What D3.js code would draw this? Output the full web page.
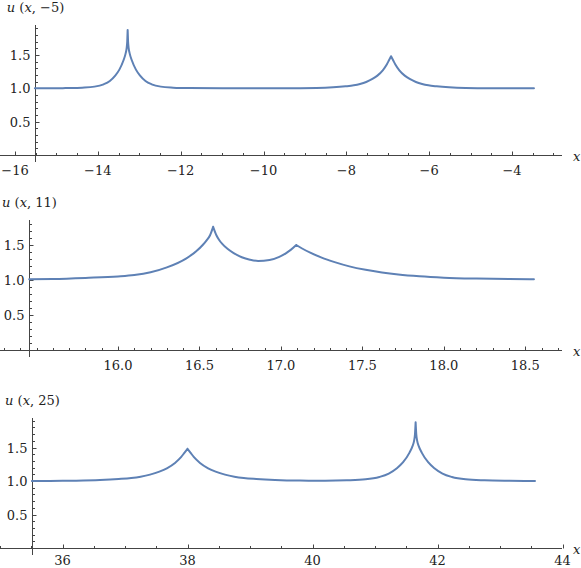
<!DOCTYPE html>
<html>
<head>
<meta charset="utf-8">
<script src="https://cdn.jsdelivr.net/npm/d3@7"></script>
<style>
  body { margin: 0; background: #fff; }
  svg text { font-family: "DejaVu Serif", serif; font-size: 13px; fill: #222; }
</style>
</head>
<body>
<svg id="chart" width="581" height="568"></svg>
<script>
// u(x, t), one array per time slice
const curveTm5 = [
  [-15.52, 1.0], [-15.0, 1.0], [-14.78, 1.003], [-14.38, 1.01], [-14.08, 1.025],
  [-13.86, 1.06], [-13.71, 1.11], [-13.58, 1.19], [-13.48, 1.28], [-13.38, 1.42],
  [-13.33, 1.52], [-13.305, 1.60], [-13.29, 1.70], [-13.28, 1.875],
  [-13.27, 1.70], [-13.255, 1.60], [-13.23, 1.52], [-13.18, 1.42], [-13.08, 1.28],
  [-12.98, 1.19], [-12.85, 1.11], [-12.70, 1.06], [-12.48, 1.025], [-12.18, 1.01],
  [-11.78, 1.003], [-11.0, 1.0], [-9.5, 1.0], [-8.72, 1.005], [-8.32, 1.015],
  [-8.02, 1.03], [-7.82, 1.045], [-7.67, 1.065], [-7.52, 1.095], [-7.37, 1.14],
  [-7.25, 1.19], [-7.12, 1.27], [-7.02, 1.36], [-6.97, 1.42], [-6.92, 1.48],
  [-6.87, 1.42], [-6.82, 1.36], [-6.72, 1.27], [-6.59, 1.19], [-6.47, 1.14],
  [-6.32, 1.095], [-6.17, 1.065], [-6.02, 1.045], [-5.82, 1.03], [-5.52, 1.015],
  [-5.12, 1.005], [-4.5, 1.001], [-3.47, 1.0]
];
const curveT11 = [
  [15.455, 1.01], [15.6, 1.015], [15.8, 1.03], [16.0, 1.05], [16.1, 1.07],
  [16.2, 1.11], [16.3, 1.18], [16.42, 1.31], [16.48, 1.41], [16.52, 1.50],
  [16.545, 1.57], [16.565, 1.64], [16.584, 1.76],
  [16.604, 1.64], [16.62, 1.575], [16.64, 1.515], [16.67, 1.45], [16.71, 1.385],
  [16.76, 1.325], [16.81, 1.29], [16.86, 1.272], [16.93, 1.285], [16.99, 1.33],
  [17.03, 1.38], [17.06, 1.43], [17.094, 1.50],
  [17.13, 1.45], [17.18, 1.39], [17.25, 1.32], [17.33, 1.256], [17.42, 1.195],
  [17.52, 1.145], [17.62, 1.107], [17.72, 1.078], [17.85, 1.052], [18.0, 1.033],
  [18.2, 1.02], [18.4, 1.013], [18.553, 1.01]
];
const curveT25 = [
  [35.51, 1.0], [36.0, 1.002], [36.2, 1.005], [36.6, 1.015], [36.9, 1.03],
  [37.1, 1.045], [37.25, 1.065], [37.4, 1.095], [37.55, 1.14], [37.67, 1.19],
  [37.8, 1.27], [37.9, 1.36], [37.95, 1.42], [38.0, 1.48],
  [38.05, 1.42], [38.1, 1.36], [38.2, 1.27], [38.33, 1.19], [38.45, 1.14],
  [38.6, 1.095], [38.75, 1.065], [38.9, 1.045], [39.1, 1.03], [39.4, 1.015],
  [39.8, 1.006], [40.2, 1.004], [40.55, 1.01], [40.85, 1.025], [41.07, 1.06],
  [41.22, 1.11], [41.35, 1.19], [41.45, 1.28], [41.55, 1.42], [41.60, 1.52],
  [41.625, 1.60], [41.64, 1.70], [41.65, 1.875],
  [41.66, 1.70], [41.675, 1.60], [41.70, 1.52], [41.75, 1.42], [41.85, 1.28],
  [41.95, 1.19], [42.08, 1.11], [42.23, 1.06], [42.45, 1.025], [42.75, 1.01],
  [43.15, 1.003], [43.56, 1.0]
];

const timeLabels = ["\u22125", "11", "25"];
const xTicksTm5 = [-16, -14, -12, -10, -8, -6, -4];
const xTicksT11 = [16.0, 16.5, 17.0, 17.5, 18.0, 18.5];
const xTicksT25 = [36, 38, 40, 42, 44];
const yTicks = [0.5, 1.0, 1.5];

const lineColor = "#5e81b5";
const axisColor = "#444";
const svg = d3.select("#chart");

// layout: two reference ticks -> pixels, baseline y and px per unit
const panels = [
  {data: curveTm5, t: timeLabels[0], ticks: xTicksTm5, minor: 0.5, fmt: d3.format("d"),
   xDom: [-16, -4], xPx: [15, 512], y0: 155, k: 66.7},
  {data: curveT11, t: timeLabels[1], ticks: xTicksT11, minor: 0.1, fmt: d3.format(".1f"),
   xDom: [16, 18.5], xPx: [118, 525.3], y0: 350, k: 70},
  {data: curveT25, t: timeLabels[2], ticks: xTicksT25, minor: 0.5, fmt: d3.format("d"),
   xDom: [36, 44], xPx: [62.5, 562.5], y0: 548, k: 67}
];

const plotLeft = 0, plotRight = 562;

// split the curve at its cusps so the monotone curve keeps them sharp
const cuspSegments = (pts) => {
  const segs = [];
  let start = 0;
  for (let i = 1; i < pts.length - 1; i++) {
    if (pts[i][1] > pts[i - 1][1] && pts[i][1] > pts[i + 1][1]) {
      segs.push(pts.slice(start, i + 1));
      start = i;
    }
  }
  segs.push(pts.slice(start));
  return segs;
};

const drawPanel = (p) => {
  const x = d3.scaleLinear().domain(p.xDom).range(p.xPx);
  const y = d3.scaleLinear().domain([0, 1]).range([p.y0, p.y0 - p.k]);
  const g = svg.append("g");
  const axX = Math.round(x(p.data[0][0])) + 0.5;
  const axY = Math.round(y(0)) + 0.5;
  const yTop = y.invert(p.y0 - 130);
  const yBot = y.invert(p.y0 + 7);

  // x axis line
  g.append("line")
    .attr("x1", plotLeft).attr("x2", plotRight)
    .attr("y1", axY).attr("y2", axY)
    .attr("stroke", axisColor);

  const lo = x.invert(plotLeft), hi = x.invert(plotRight);
  const minorX = d3.range(Math.ceil(lo / p.minor), Math.floor(hi / p.minor) + 1)
    .map(i => +(i * p.minor).toFixed(3))
    .filter(v => !p.ticks.some(t => Math.abs(t - v) < 1e-6));
  g.selectAll(".xminor").data(minorX).join("line")
    .attr("x1", d => Math.round(x(d)) + 0.5).attr("x2", d => Math.round(x(d)) + 0.5)
    .attr("y1", axY).attr("y2", axY - 2.5)
    .attr("stroke", axisColor);
  g.selectAll(".xmajor").data(p.ticks).join("line")
    .attr("x1", d => Math.round(x(d)) + 0.5).attr("x2", d => Math.round(x(d)) + 0.5)
    .attr("y1", axY).attr("y2", axY - 4)
    .attr("stroke", axisColor);
  g.selectAll(".xlab").data(p.ticks).join("text")
    .attr("x", d => x(d)).attr("y", Math.min(axY + 19, 565))
    .attr("text-anchor", "middle")
    .text(d => p.fmt(d));
  g.append("text")
    .attr("x", 573).attr("y", axY + 5)
    .attr("font-style", "italic")
    .text("x");

  // y axis line
  g.append("line")
    .attr("x1", axX).attr("x2", axX)
    .attr("y1", y(yBot)).attr("y2", y(yTop))
    .attr("stroke", axisColor);
  const minorY = d3.range(1, Math.floor(yTop * 10) + 1).map(i => i / 10)
    .filter(v => !yTicks.some(t => Math.abs(t - v) < 1e-6));
  g.selectAll(".yminor").data(minorY).join("line")
    .attr("x1", axX).attr("x2", axX + 2.5)
    .attr("y1", d => Math.round(y(d)) + 0.5).attr("y2", d => Math.round(y(d)) + 0.5)
    .attr("stroke", axisColor);
  g.selectAll(".ymajor").data(yTicks).join("line")
    .attr("x1", axX).attr("x2", axX + 4)
    .attr("y1", d => Math.round(y(d)) + 0.5).attr("y2", d => Math.round(y(d)) + 0.5)
    .attr("stroke", axisColor);
  g.selectAll(".ylab").data(yTicks).join("text")
    .attr("x", axX - 5).attr("y", d => y(d) + 5)
    .attr("text-anchor", "end")
    .text(d => d3.format(".1f")(d));

  // axis label u(x, t)
  const lab = g.append("text")
    .attr("x", axX).attr("y", p.y0 - 143)
    .attr("text-anchor", "middle");
  lab.append("tspan").attr("font-style", "italic").text("u");
  lab.append("tspan").text(" (");
  lab.append("tspan").attr("font-style", "italic").text("x");
  lab.append("tspan").text(", " + p.t + ")");

  // the curve
  const line = d3.line().x(d => x(d[0])).y(d => y(d[1])).curve(d3.curveMonotoneX);
  g.append("path")
    .attr("d", cuspSegments(p.data).map(s => line(s)).join(""))
    .attr("fill", "none")
    .attr("stroke", lineColor)
    .attr("stroke-width", 2)
    .attr("stroke-linecap", "round")
    .attr("stroke-linejoin", "round");
};

panels.forEach(drawPanel);
</script>
</body>
</html>
